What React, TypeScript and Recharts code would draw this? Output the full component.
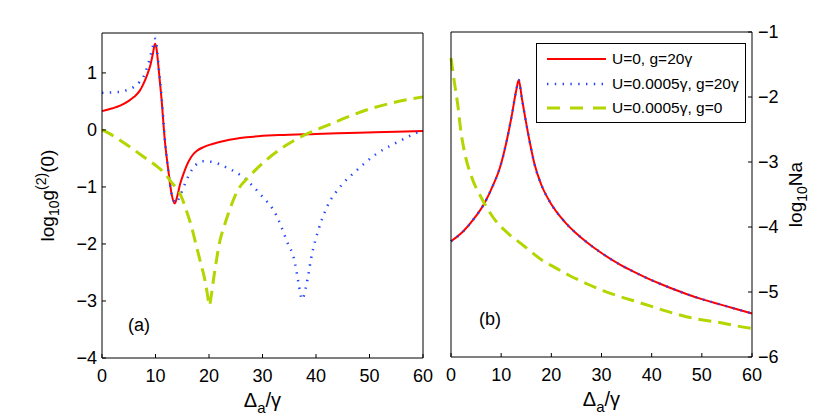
import { LineChart, Line, XAxis, YAxis, Legend, Label } from "recharts";

const xTicks = [0, 10, 20, 30, 40, 50, 60];
const g2Ticks = [-4, -3, -2, -1, 0, 1];
const naTicks = [-6, -5, -4, -3, -2, -1];

const seriesNames = ["U=0, g=20γ", "U=0.0005γ, g=20γ", "U=0.0005γ, g=0"];

// panel (a): log10 g2(0) vs detuning
const aRedX = [0, 2, 3.5, 5, 6, 7, 7.7, 8.5, 9, 9.5, 9.9, 10.2, 10.5, 11.1, 11.75, 12.4, 13.0, 13.6, 14.1, 14.6, 15.2, 15.8, 16.7, 17.7, 19, 20.5, 23, 27, 33, 40, 48, 55, 60];
const aRedY = [0.33, 0.38, 0.43, 0.51, 0.58, 0.68, 0.8, 0.98, 1.12, 1.33, 1.51, 1.42, 1.16, 0.57, -0.19, -0.71, -1.12, -1.29, -1.15, -0.95, -0.78, -0.63, -0.47, -0.37, -0.3, -0.25, -0.19, -0.13, -0.09, -0.07, -0.05, -0.03, -0.02];

const aBlueX = [0, 2, 3.4, 5, 5.9, 7, 7.7, 8.65, 9.3, 9.7, 10.0, 10.3, 10.6, 11.2, 11.8, 12.4, 13.0, 13.8, 14.6, 15.5, 16.3, 17.1, 18.9, 20.5, 23.3, 26.4, 29.5, 32.6, 34.5, 36.1, 36.7, 37.4, 38.3, 39.2, 40.4, 42, 44.5, 47.6, 51.3, 55.1, 58.8, 60];
const aBlueY = [0.65, 0.66, 0.67, 0.71, 0.75, 0.84, 0.92, 1.16, 1.39, 1.53, 1.6, 1.4, 1.1, 0.52, -0.22, -0.72, -1.12, -1.28, -1.15, -0.95, -0.78, -0.66, -0.55, -0.56, -0.66, -0.83, -1.12, -1.5, -1.94, -2.35, -2.67, -2.97, -2.67, -2.2, -1.77, -1.36, -1.0, -0.71, -0.42, -0.22, -0.05, 0.0];

const aGreenX = [0, 1.5, 4, 6, 8.35, 10, 11.5, 13, 14.6, 15.8, 16.8, 17.7, 18.5, 19.25, 19.7, 20.06, 20.4, 20.8, 21.4, 22.05, 22.8, 23.6, 25.2, 27.7, 30.8, 33.9, 37.6, 42, 45.7, 50.1, 54.5, 60];
const aGreenY = [0, -0.07, -0.22, -0.35, -0.51, -0.62, -0.74, -0.92, -1.12, -1.42, -1.72, -2.06, -2.35, -2.64, -2.88, -3.08, -2.92, -2.65, -2.28, -1.94, -1.7, -1.47, -1.09, -0.8, -0.52, -0.3, -0.1, 0.075, 0.22, 0.37, 0.48, 0.58];

// panel (b): log10 Na vs detuning (blue curve sits on the red one)
const bRedX = [0, 2.4, 4.7, 6.7, 8.37, 9.7, 11.03, 12.03, 13.0, 13.5, 14.13, 14.8, 15.67, 16.67, 18, 20, 22.67, 25, 27, 30, 33.7, 37, 40.3, 43.5, 46.9, 50, 53.6, 57, 60];
const bRedY = [-4.22, -4.07, -3.86, -3.63, -3.36, -3.1, -2.7, -2.32, -1.9, -1.74, -2.02, -2.32, -2.68, -3.04, -3.35, -3.65, -3.92, -4.1, -4.23, -4.4, -4.58, -4.71, -4.83, -4.93, -5.03, -5.11, -5.19, -5.265, -5.33];
const bBlueX = bRedX;
const bBlueY = bRedY;

const bGreenX = [0, 0.74, 1.4, 1.87, 2.73, 4.06, 6.05, 8.37, 11.7, 13.7, 15.33, 18.33, 20.4, 23.7, 27, 30.3, 33.7, 37, 40.3, 43.6, 46.9, 50.2, 53.6, 56.8, 60];
const bGreenY = [-1.4, -1.81, -2.15, -2.47, -2.86, -3.22, -3.55, -3.85, -4.12, -4.24, -4.34, -4.52, -4.61, -4.75, -4.87, -4.98, -5.07, -5.15, -5.23, -5.31, -5.38, -5.43, -5.47, -5.52, -5.56];

const pts = (xs: number[], ys: number[]) => xs.map((x, i) => ({ x, y: ys[i] }));

const RED = "#ff0000";
const BLUE = "#2246ff";
const GREEN = "#b3d600";

const lineStyles = [
  { stroke: RED, strokeWidth: 2 },
  { stroke: BLUE, strokeWidth: 2.5, strokeDasharray: "1.4 6.4" },
  { stroke: GREEN, strokeWidth: 3, strokeDasharray: "13 7" },
];

const fmt = (v: number) => (v < 0 ? `\u2212${Math.abs(v)}` : `${v}`);
const tickFont = { fill: "#000", fontSize: 18 };

function XTitle({ viewBox }: any) {
  const { x, y, width } = viewBox;
  return (
    <text x={x + width / 2} y={y + 49} textAnchor="middle" fontSize={20} fill="#000">
      Δ<tspan dy={6} fontSize={15}>a</tspan>
      <tspan dy={-6}>/γ</tspan>
    </text>
  );
}

function G2Title({ viewBox }: any) {
  const { x, y, width, height } = viewBox;
  const cx = x + width - 48;
  const cy = y + height / 2;
  return (
    <text x={cx} y={cy} transform={`rotate(-90 ${cx} ${cy})`} textAnchor="middle" fontSize={19} fill="#000">
      log<tspan dy={5} fontSize={14}>10</tspan>
      <tspan dy={-5}>g</tspan>
      <tspan dy={-8} fontSize={14}>(2)</tspan>
      <tspan dy={8}>(0)</tspan>
    </text>
  );
}

function NaTitle({ viewBox }: any) {
  const { x, y, height } = viewBox;
  const cx = x + 50;
  const cy = y + height / 2;
  return (
    <text x={cx} y={cy} transform={`rotate(-90 ${cx} ${cy})`} textAnchor="middle" fontSize={19} fill="#000">
      log<tspan dy={5} fontSize={14}>10</tspan>
      <tspan dy={-5}>Na</tspan>
    </text>
  );
}

function LegendBox() {
  return (
    <div
      style={{
        border: "1px solid #000",
        background: "#fff",
        width: 208,
        height: 75,
        paddingTop: 3,
        boxSizing: "content-box",
        fontSize: 15.5,
        color: "#000",
      }}
    >
      {seriesNames.map((name, i) => (
        <div key={name} style={{ display: "flex", alignItems: "center", height: 24.5 }}>
          <svg width={59} height={6} style={{ marginLeft: 10, marginRight: 6 }}>
            <line x1={0} y1={3} x2={59} y2={3} {...lineStyles[i]} strokeDasharray={i === 2 ? "13 10" : lineStyles[i].strokeDasharray} />
          </svg>
          <span style={{ whiteSpace: "nowrap" }}>{name}</span>
        </div>
      ))}
    </div>
  );
}

export default function App() {
  return (
    <div
      style={{
        position: "absolute",
        left: 0,
        top: 0,
        width: 830,
        height: 419,
        background: "#fff",
        fontFamily: '"Liberation Sans", Arial, sans-serif',
      }}
    >
      <div style={{ position: "absolute", left: 0, top: 0 }}>
        <LineChart width={440} height={419} margin={{ top: 32, right: 16, bottom: 60, left: 101 }}>
          <XAxis type="number" dataKey="x" domain={[0, 60]} ticks={xTicks} interval={0} height={1}
            stroke="#000" tick={tickFont} tickSize={-4} tickMargin={15}>
            <Label content={XTitle} />
          </XAxis>
          <XAxis xAxisId="top" orientation="top" type="number" dataKey="x" domain={[0, 60]} ticks={xTicks}
            interval={0} height={1} allowDataOverflow stroke="#000" tick={false} tickSize={-4} />
          <YAxis type="number" domain={[-4, 1.7]} ticks={g2Ticks} interval={0} width={1} allowDataOverflow
            stroke="#000" tick={tickFont} tickSize={-4} tickMargin={9} tickFormatter={fmt}>
            <Label content={G2Title} />
          </YAxis>
          <YAxis yAxisId="r" orientation="right" type="number" domain={[-4, 1.7]} ticks={g2Ticks} interval={0}
            width={1} allowDataOverflow stroke="#000" tick={false} tickSize={-4} />
          <Line data={pts(aRedX, aRedY)} dataKey="y" name={seriesNames[0]} type="monotone" dot={false}
            isAnimationActive={false} {...lineStyles[0]} />
          <Line data={pts(aBlueX, aBlueY)} dataKey="y" name={seriesNames[1]} type="monotone" dot={false}
            isAnimationActive={false} {...lineStyles[1]} />
          <Line data={pts(aGreenX, aGreenY)} dataKey="y" name={seriesNames[2]} type="monotone" dot={false}
            isAnimationActive={false} {...lineStyles[2]} />
          <text x={128} y={331} fontSize={18} fill="#000">(a)</text>
        </LineChart>
      </div>
      <div style={{ position: "absolute", left: 430, top: 0 }}>
        <LineChart width={400} height={419} margin={{ top: 31, right: 77, bottom: 61, left: 20 }}>
          <XAxis type="number" dataKey="x" domain={[0, 60]} ticks={xTicks} interval={0} height={1}
            stroke="#000" tick={tickFont} tickSize={-4} tickMargin={15}>
            <Label content={XTitle} />
          </XAxis>
          <XAxis xAxisId="top" orientation="top" type="number" dataKey="x" domain={[0, 60]} ticks={xTicks}
            interval={0} height={1} allowDataOverflow stroke="#000" tick={false} tickSize={-4} />
          <YAxis yAxisId="l" orientation="left" type="number" domain={[-6, -1]} ticks={naTicks} interval={0}
            width={1} allowDataOverflow stroke="#000" tick={false} tickSize={-4} />
          <YAxis orientation="right" type="number" domain={[-6, -1]} ticks={naTicks} interval={0} width={1}
            allowDataOverflow stroke="#000" tick={tickFont} tickSize={-4} tickMargin={10} tickFormatter={fmt}>
            <Label content={NaTitle} />
          </YAxis>
          <Legend content={LegendBox} layout="horizontal" verticalAlign="middle" align="center"
            wrapperStyle={{ left: 106, top: 43, width: 210 }} />
          <Line data={pts(bRedX, bRedY)} dataKey="y" name={seriesNames[0]} type="monotone" dot={false}
            isAnimationActive={false} {...lineStyles[0]} />
          <Line data={pts(bBlueX, bBlueY)} dataKey="y" name={seriesNames[1]} type="monotone" dot={false}
            isAnimationActive={false} {...lineStyles[1]} />
          <Line data={pts(bGreenX, bGreenY)} dataKey="y" name={seriesNames[2]} type="monotone" dot={false}
            isAnimationActive={false} {...lineStyles[2]} />
          <text x={49} y={325} fontSize={18} fill="#000">(b)</text>
        </LineChart>
      </div>
    </div>
  );
}
